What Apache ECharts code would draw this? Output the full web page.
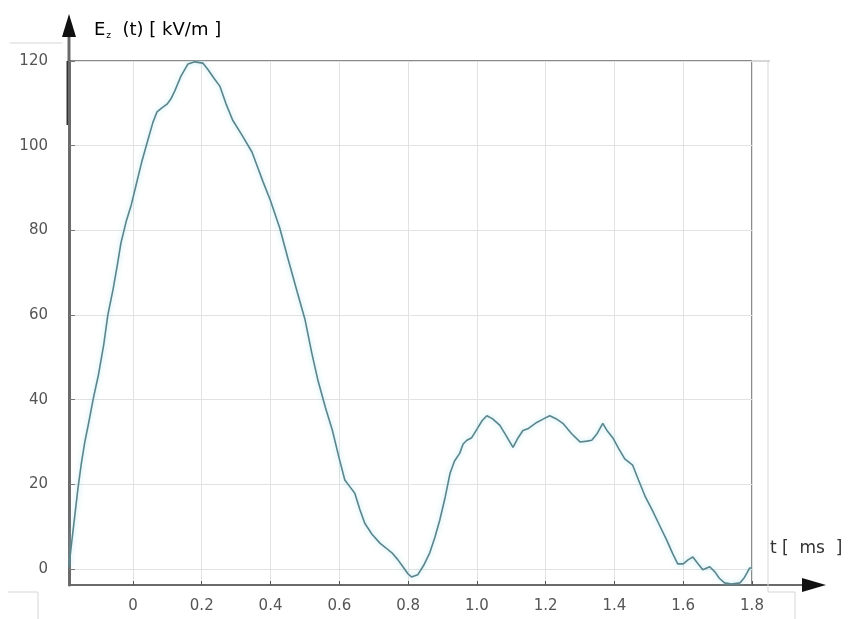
<!DOCTYPE html>
<html>
<head>
<meta charset="utf-8">
<script src="https://cdn.jsdelivr.net/npm/echarts@6/dist/echarts.min.js"></script>
<style>
  html, body { margin: 0; padding: 0; background: #fff; }
  #chart { width: 850px; height: 619px; }
</style>
</head>
<body>
<div id="chart"></div>
<script>
// time axis [ms] and field strength [kV/m]
var times = [
  -0.186, -0.180, -0.170, -0.160, -0.150, -0.140, -0.130, -0.116, -0.100, -0.085,
  -0.073, -0.058, -0.045, -0.035, -0.020, -0.005, 0.010, 0.025, 0.044, 0.058,
  0.070, 0.085, 0.099, 0.110, 0.122, 0.140, 0.160, 0.180, 0.203, 0.218,
  0.235, 0.253, 0.270, 0.290, 0.317, 0.346, 0.362, 0.378, 0.400, 0.427,
  0.450, 0.477, 0.500, 0.520, 0.538, 0.560, 0.580, 0.600, 0.616, 0.630,
  0.645, 0.660, 0.674, 0.695, 0.718, 0.735, 0.753, 0.770, 0.785, 0.800,
  0.810, 0.828, 0.845, 0.863, 0.878, 0.892, 0.908, 0.922, 0.935, 0.950,
  0.960, 0.971, 0.985, 1.003, 1.015, 1.029, 1.045, 1.067, 1.085, 1.105,
  1.120, 1.134, 1.150, 1.174, 1.195, 1.212, 1.230, 1.250, 1.275, 1.300,
  1.320, 1.334, 1.350, 1.366, 1.380, 1.395, 1.412, 1.430, 1.453, 1.470,
  1.490, 1.510, 1.530, 1.552, 1.570, 1.584, 1.600, 1.615, 1.628, 1.643,
  1.657, 1.677, 1.692, 1.705, 1.720, 1.740, 1.765, 1.778, 1.785, 1.793,
  1.800
]
var field = [
  0.5, 5, 12, 19, 25, 30, 34, 40, 46, 53,
  60, 66, 72, 77, 82, 86, 91, 96, 101.5, 105.5,
  108, 109, 109.8, 111, 113, 116.5, 119.3, 119.8, 119.5, 118,
  116, 114, 110, 106, 102.5, 98.5, 95, 91.5, 87, 80.5,
  73.5, 65.6, 59, 51, 44.5, 38, 32.7, 26, 21, 19.5,
  17.9, 14, 10.8, 8.2, 6.1, 5, 3.8, 2.2, 0.5, -1.2,
  -1.9, -1.4, 0.8, 3.8, 7.5, 11.5, 17, 22.6, 25.5, 27.3,
  29.5, 30.4, 31, 33.4, 35, 36.2, 35.5, 33.9, 31.5, 28.7,
  31, 32.7, 33.2, 34.6, 35.5, 36.2, 35.5, 34.4, 32, 30,
  30.2, 30.4, 32, 34.4, 32.5, 31, 28.5, 26, 24.5, 21,
  17, 13.9, 10.5, 6.8, 3.5, 1.2, 1.2, 2.2, 2.8, 1.2,
  -0.2, 0.5, -0.7, -2.2, -3.3, -3.6, -3.3, -2, -1, 0.2,
  0.2
]
var xTicks = [0, 0.2, 0.4, 0.6, 0.8, 1.0, 1.2, 1.4, 1.6, 1.8]
var yTicks = [0, 20, 40, 60, 80, 100, 120]

var chart = echarts.init(document.getElementById('chart'))
var font = 'DejaVu Sans'
var faint = '#d6d6d6'

var option = {
  backgroundColor: '#fff',
  animation: false,
  grid: {
    left: 69,
    right: 98,
    top: 61,
    bottom: 34,
    show: true,
    borderColor: '#8a8a8a',
    borderWidth: 2
  },
  xAxis: {
    type: 'value',
    min: -0.186,
    max: 1.8,
    axisLine: { onZero: false, lineStyle: { color: '#6a6a6a', width: 2 } },
    axisTick: { show: true, length: 4, inside: true, customValues: xTicks, lineStyle: { color: '#555' } },
    axisLabel: {
      customValues: xTicks,
      margin: 14,
      color: '#555',
      fontFamily: font,
      fontSize: 15,
      formatter: function (v) {
        return v === 0 ? '0' : v.toFixed(1)
      }
    },
    splitLine: { show: true, lineStyle: { color: '#e2e2e2', width: 1 } }
  },
  yAxis: {
    type: 'value',
    min: -3.8,
    max: 120,
    axisLine: { show: true, onZero: false, lineStyle: { color: '#6a6a6a', width: 3 } },
    axisTick: { show: true, length: 6, inside: true, customValues: yTicks, lineStyle: { color: '#777' } },
    axisLabel: {
      customValues: yTicks,
      margin: 21,
      color: '#555',
      fontFamily: font,
      fontSize: 15
    },
    splitLine: { show: true, lineStyle: { color: '#e2e2e2', width: 1 } }
  },
  series: [
    {
      type: 'line',
      data: times.map(function (t, i) { return [t, field[i]] }),
      showSymbol: false,
      lineStyle: {
        color: '#5b858c',
        width: 1.6,
        shadowColor: 'rgba(150,220,232,0.8)',
        shadowBlur: 5
      },
      z: 3
    }
  ],
  graphic: [
    // axis arrows and leftover frame pieces of the scan
    { type: 'line', shape: { x1: 69, y1: 61, x2: 69, y2: 34 }, style: { stroke: '#6a6a6a', lineWidth: 3 } },
    { type: 'line', shape: { x1: 68, y1: 61, x2: 68, y2: 125 }, style: { stroke: '#333', lineWidth: 3 } },
    { type: 'polygon', shape: { points: [[62, 37], [76, 37], [69, 14]] }, style: { fill: '#111' } },
    { type: 'line', shape: { x1: 752, y1: 585, x2: 806, y2: 585 }, style: { stroke: '#6a6a6a', lineWidth: 2 } },
    { type: 'polygon', shape: { points: [[802, 578], [802, 592], [826, 585]] }, style: { fill: '#111' } },
    { type: 'line', shape: { x1: 752, y1: 61, x2: 770, y2: 61 }, style: { stroke: faint, lineWidth: 2 } },
    { type: 'line', shape: { x1: 768, y1: 61, x2: 768, y2: 592 }, style: { stroke: faint, lineWidth: 1 } },
    { type: 'polyline', shape: { points: [[768, 592], [795, 592], [795, 619]] }, style: { stroke: faint, lineWidth: 1, fill: null } },
    { type: 'polyline', shape: { points: [[8, 592], [38, 592], [38, 619]] }, style: { stroke: faint, lineWidth: 1, fill: null } },
    { type: 'line', shape: { x1: 10, y1: 43, x2: 62, y2: 43 }, style: { stroke: faint, lineWidth: 1 } },
    {
      type: 'text',
      left: 94,
      top: 21,
      style: {
        text: '{a|E}{s|z}{a|  (t) [ kV/m ]}',
        rich: {
          a: { fontFamily: font, fontSize: 18, color: '#333' },
          s: { fontFamily: font, fontSize: 9, color: '#333', padding: [12, 0, 0, 1] }
        }
      }
    },
    {
      type: 'text',
      left: 770,
      top: 540,
      style: { text: 't [  ms  ]', fontFamily: font, fontSize: 17, fill: '#333' }
    }
  ]
}

chart.setOption(option)
window.addEventListener('resize', function () {
  chart.resize()
})
</script>
</body>
</html>
